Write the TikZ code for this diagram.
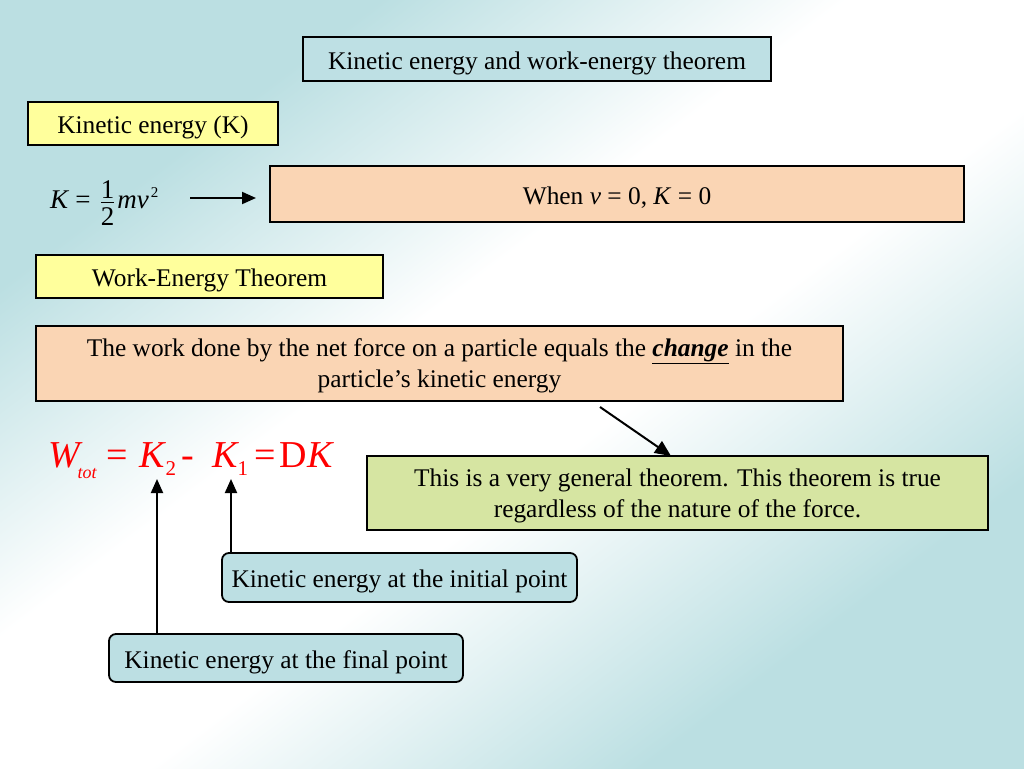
\documentclass[tikz,border=0pt]{standalone}
\usepackage{fontspec}
\setmainfont{Liberation Serif}
\usetikzlibrary{arrows.meta}
\definecolor{bgteal}{HTML}{BBDFE2}
\definecolor{titlefill}{HTML}{BEE0E4}
\definecolor{yellowfill}{HTML}{FFFF9C}
\definecolor{peachfill}{HTML}{FAD5B4}
\definecolor{greenfill}{HTML}{D6E5A2}
\definecolor{tealbox}{HTML}{BCDFE3}
\pgfdeclareverticalshading{bgshade}{100bp}{color(0bp)=(bgteal); color(28bp)=(bgteal); color(45bp)=(white); color(56bp)=(white); color(72bp)=(bgteal); color(100bp)=(bgteal)}
\tikzset{
  box/.style={draw=black, line width=1.8pt, inner sep=0pt, align=center, text=black},
  onebox/.style={box, text height=26pt, text depth=6pt},
  rbox/.style={onebox, rounded corners=7pt, fill=tealbox},
  arr/.style={line width=2pt, -{Triangle[length=14pt, width=12pt]}},
}
\begin{document}
\begin{tikzpicture}[x=1pt, y=-1pt, font=\fontsize{25.4}{31}\selectfont]
\useasboundingbox (0,0) rectangle (1024,768);
\shade[shading=bgshade, shading angle=37] (0,0) rectangle (1024,768);

% title
\node[onebox, fill=titlefill, minimum width=468pt, minimum height=44pt] (title) at (537,59) {Kinetic energy and work-energy theorem};

% kinetic energy label
\node[onebox, fill=yellowfill, minimum width=250pt, minimum height=43pt] (kelabel) at (153,123.5) {Kinetic energy (K)};

% formula
\node[anchor=base west, inner sep=0pt, font=\fontsize{27}{30}\selectfont] (formula) at (50,208) {$\displaystyle\mbox{\textit{K}\hspace{6pt}=\hspace{9pt}}\frac{\raisebox{-7pt}[0pt][0pt]{1}}{\mbox{2}}\mbox{\hspace{2pt}\textit{mv}\hspace{2pt}}^{\mbox{\fontsize{15}{15}\selectfont 2}}$};
\coordinate (fa) at (190,198);
\coordinate (fb) at (256,198);
\draw[arr] (fa) -- (fb);

% when v = 0
\node[onebox, fill=peachfill, minimum width=694pt, minimum height=56pt] (when) at (617,194) {When \textit{v} = 0, \textit{K} = 0};

% work-energy label
\node[onebox, fill=yellowfill, minimum width=347pt, minimum height=43pt] (welabel) at (209.5,276.5) {Work-Energy Theorem};

% statement
\node[box, fill=peachfill, minimum width=807pt, minimum height=75pt] (stmt) at (439.5,363.5) {\rule{0pt}{22pt}The work done by the net force on a particle equals the \textbf{\textit{\underline{change}}} in the\\particle’s kinetic energy};

% equation
\node[anchor=base west, inner sep=0pt, text=red, font=\fontsize{38}{40}\selectfont] (eq) at (48,467) {\textit{W}\hspace{-5pt}\raisebox{-11pt}{\fontsize{18}{18}\selectfont\textit{tot}}\hspace{9pt}=\hspace{12pt}\textit{K}\hspace{-1pt}\raisebox{-8pt}{\fontsize{21}{21}\selectfont 2}\hspace{5pt}-\hspace{19pt}\textit{K}\hspace{-2pt}\raisebox{-8pt}{\fontsize{21}{21}\selectfont 1}\hspace{6pt}=\hspace{4pt}D\textit{K}};

% green note
\node[box, fill=greenfill, minimum width=621pt, minimum height=74pt] (note) at (677.5,493) {\rule{0pt}{23pt}This is a very general theorem. This theorem is true\\regardless of the nature of the force.};
\coordinate (gtail) at (600,407);
\coordinate (gtip) at (671,456);
\draw[arr, -{Triangle[length=16pt, width=14pt]}] (gtail) -- (gtip);

% initial / final boxes
\node[rbox, minimum width=355pt, minimum height=49pt] (initial) at (399.5,577.5) {Kinetic energy at the initial point};
\node[rbox, minimum width=354pt, minimum height=48pt] (final) at (286,658) {Kinetic energy at the final point};

\coordinate (k2) at (157,479);
\coordinate (k1) at (231,479);
\draw[arr] (final.north -| k2) -- (k2);
\draw[arr] (initial.north -| k1) -- (k1);
\end{tikzpicture}
\end{document}
